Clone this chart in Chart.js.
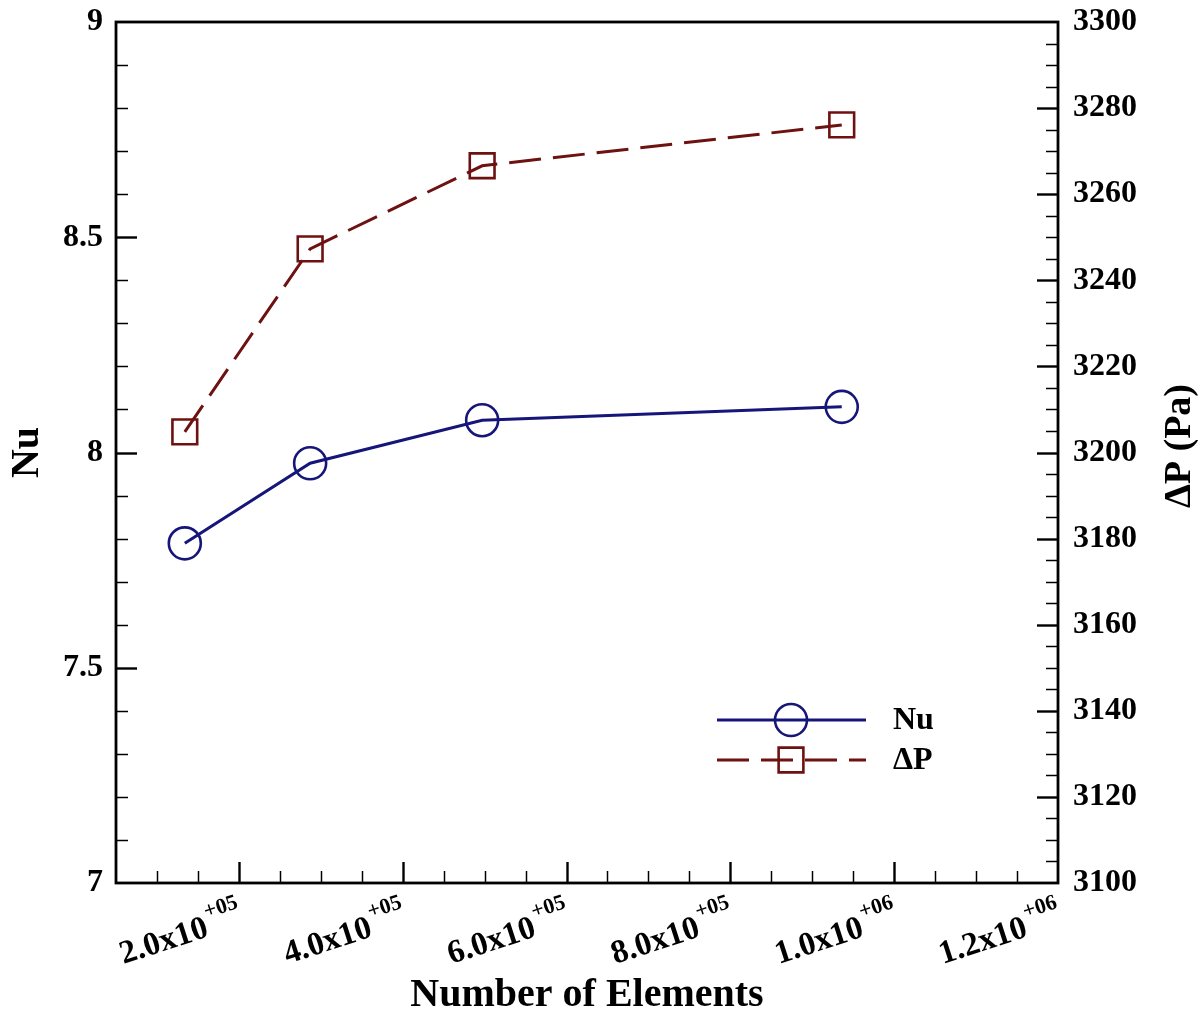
<!DOCTYPE html>
<html><head><meta charset="utf-8">
<script src="https://cdn.jsdelivr.net/npm/chart.js@4/dist/chart.umd.min.js"></script>
<style>html,body{margin:0;padding:0;background:#fff;}</style>
</head><body>
<canvas id="c" width="1204" height="1016" style="display:block;width:1204px;height:1016px"></canvas>
<script>
// ---- data ----
const elements = [134000, 287000, 497000, 936000];
const nuValues = [7.789, 7.975, 8.075, 8.106];
const dpValues = [3204.8, 3247.3, 3266.6, 3276.1];
const xTickValues = [200000, 400000, 600000, 800000, 1000000, 1200000];
const xTickMantissa = ['2.0', '4.0', '6.0', '8.0', '1.0', '1.2'];
const xTickExponent = ['+05', '+05', '+05', '+05', '+06', '+06'];
const nuTickLabels = ['7', '7.5', '8', '8.5', '9'];
const dpTickLabels = ['3100', '3120', '3140', '3160', '3180', '3200', '3220', '3240', '3260', '3280', '3300'];
const seriesNames = ['Nu', '\u0394P'];
const xTitle = 'Number of Elements';
const yLeftTitle = 'Nu';
const yRightTitle = '\u0394P (Pa)';

const NAVY = '#16167a';
const MAROON = '#6e1111';
const SERIF = '"Liberation Serif", "Times New Roman", serif';

const decor = {
  id: 'decor',
  afterDraw(chart) {
    const ctx = chart.ctx;
    const a = chart.chartArea;
    const xs = chart.scales.x, yl = chart.scales.y, yr = chart.scales.y2;
    ctx.save();
    // ticks (inward)
    ctx.strokeStyle = '#000';
    for (let i = 1; i < 23; i++) {
      const v = 50000 + i * 50000;
      const major = v % 200000 === 0;
      const p = Math.round(xs.getPixelForValue(v)) + 0.5;
      ctx.lineWidth = major ? 2.4 : 1.5;
      ctx.beginPath(); ctx.moveTo(p, a.bottom); ctx.lineTo(p, a.bottom - (major ? 21 : 12)); ctx.stroke();
    }
    for (let i = 71; i < 90; i++) {
      const major = i % 5 === 0;
      const p = Math.round(yl.getPixelForValue(i / 10)) + 0.5;
      ctx.lineWidth = major ? 2.4 : 1.5;
      ctx.beginPath(); ctx.moveTo(a.left, p); ctx.lineTo(a.left + (major ? 21 : 12), p); ctx.stroke();
    }
    for (let v = 3105; v < 3300; v += 5) {
      const major = v % 20 === 0;
      const p = Math.round(yr.getPixelForValue(v)) + 0.5;
      ctx.lineWidth = major ? 2.4 : 1.5;
      ctx.beginPath(); ctx.moveTo(a.right, p); ctx.lineTo(a.right - (major ? 21 : 12), p); ctx.stroke();
    }
    // frame
    ctx.lineWidth = 2.8;
    ctx.strokeRect(a.left, a.top, a.right - a.left, a.bottom - a.top);

    // x tick labels with superscript exponent
    ctx.fillStyle = '#000';
    xTickValues.forEach((v, i) => {
      const px = xs.getPixelForValue(v);
      ctx.save();
      ctx.translate(px - 29, a.bottom + 53);
      ctx.rotate(-18 * Math.PI / 180);
      ctx.font = 'bold 33px ' + SERIF;
      ctx.textAlign = 'right'; ctx.textBaseline = 'alphabetic';
      ctx.fillText(xTickMantissa[i] + 'x10', 0, 0);
      ctx.font = 'bold 22px ' + SERIF;
      ctx.textAlign = 'left';
      ctx.fillText(xTickExponent[i], 2, -18);
      ctx.restore();
    });

    // right axis title (reads bottom-to-top)
    ctx.save();
    ctx.translate(1180, 446);
    ctx.rotate(-Math.PI / 2);
    ctx.font = 'bold 38px ' + SERIF;
    ctx.textAlign = 'center'; ctx.textBaseline = 'middle';
    ctx.fillText(yRightTitle, 0, 0);
    ctx.restore();

    // legend
    const rows = [{y: 720, ds: chart.data.datasets[0]}, {y: 760, ds: chart.data.datasets[1]}];
    rows.forEach(r => {
      const ds = r.ds;
      ctx.save();
      ctx.strokeStyle = ds.borderColor;
      ctx.lineWidth = ds.borderWidth;
      ctx.setLineDash(ds.borderDash || []);
      ctx.beginPath(); ctx.moveTo(717, r.y); ctx.lineTo(866, r.y); ctx.stroke();
      ctx.setLineDash([]);
      ctx.lineWidth = ds.pointBorderWidth;
      ctx.beginPath();
      if (ds.pointStyle === 'circle') { ctx.arc(791, r.y, ds.pointRadius, 0, Math.PI * 2); }
      else { const h = ds.pointRadius * Math.SQRT1_2; ctx.rect(791 - h, r.y - h, 2 * h, 2 * h); }
      ctx.stroke();
      ctx.fillStyle = '#000';
      ctx.font = 'bold 32px ' + SERIF;
      ctx.textAlign = 'left'; ctx.textBaseline = 'middle';
      ctx.fillText(ds.label, 893, r.y + 1);
      ctx.restore();
    });
    ctx.restore();
  }
};

new Chart(document.getElementById('c'), {
  type: 'line',
  data: {
    datasets: [
      {
        label: seriesNames[0],
        data: elements.map((x, i) => ({x, y: nuValues[i]})),
        yAxisID: 'y',
        borderColor: NAVY, borderWidth: 3,
        pointStyle: 'circle', pointRadius: 16, pointBorderWidth: 2.6,
        pointBorderColor: NAVY, pointBackgroundColor: 'rgba(0,0,0,0)',
        fill: false, tension: 0
      },
      {
        label: seriesNames[1],
        data: elements.map((x, i) => ({x, y: dpValues[i]})),
        yAxisID: 'y2',
        borderColor: MAROON, borderWidth: 3, borderDash: [32, 12],
        pointStyle: 'rect', pointRadius: 17.5, pointBorderWidth: 2.6,
        pointBorderColor: MAROON, pointBackgroundColor: 'rgba(0,0,0,0)',
        fill: false, tension: 0
      }
    ]
  },
  options: {
    responsive: false,
    animation: false,
    devicePixelRatio: 1,
    layout: {padding: {top: 22, left: 0, right: 0, bottom: 0}},
    plugins: {legend: {display: false}, tooltip: {enabled: false}},
    scales: {
      x: {
        type: 'linear', position: 'bottom', min: 50000, max: 1200000,
        grid: {display: false}, border: {display: false},
        ticks: {display: false},
        title: {display: true, text: xTitle, color: '#000',
          font: {family: SERIF, weight: 'bold', size: 40, lineHeight: 1.0}, padding: {top: 0, bottom: 0}},
        afterFit(s) { s.height = 133; s.paddingLeft = 0; s.paddingRight = 0; }
      },
      y: {
        type: 'linear', position: 'left', min: 7, max: 9,
        grid: {display: false, drawTicks: false}, border: {display: false},
        ticks: {stepSize: 0.5, padding: 13, color: '#000',
          font: {family: SERIF, weight: 'bold', size: 32},
          callback: (v) => nuTickLabels.find(t => Number(t) === v) ?? ''},
        title: {display: true, text: yLeftTitle, color: '#000',
          font: {family: SERIF, weight: 'bold', size: 40, lineHeight: 1.2}, padding: {top: 4, bottom: 0}},
        afterFit(s) { s.width = 116; s.paddingTop = 0; s.paddingBottom = 0; }
      },
      y2: {
        type: 'linear', position: 'right', min: 3100, max: 3300,
        grid: {display: false, drawTicks: false}, border: {display: false},
        ticks: {stepSize: 20, padding: 15, color: '#000',
          font: {family: SERIF, weight: 'bold', size: 32},
          callback: (v) => dpTickLabels.find(t => Number(t) === v) ?? ''},
        title: {display: false},
        afterFit(s) { s.width = 146; s.paddingTop = 0; s.paddingBottom = 0; }
      }
    }
  },
  plugins: [decor]
});
</script>
</body></html>
